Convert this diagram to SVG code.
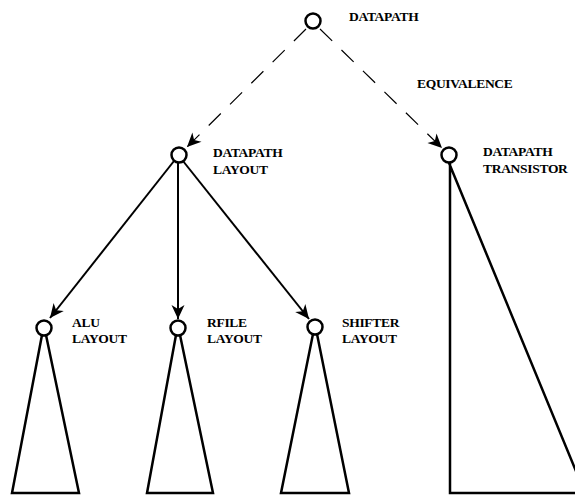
<svg xmlns="http://www.w3.org/2000/svg" width="575" height="497" viewBox="0 0 575 497">
  <style>
    .node circle { fill: #fff; stroke: #000; stroke-width: 2.5; }
    .tree { fill: none; stroke: #000; stroke-width: 2.5; stroke-linejoin: miter; }
    .lbl { font-family: "Liberation Serif", "Times New Roman", serif; font-weight: bold; font-size: 13.5px; fill: #000; letter-spacing: -0.3px; }
    .solid { stroke: #000; stroke-width: 2; fill: none; }
    .dash { stroke: #000; stroke-width: 1.2; fill: none; stroke-dasharray: 17 13; }
  </style>
  <defs>
    <marker id="head" markerUnits="userSpaceOnUse" markerWidth="18" markerHeight="16" viewBox="-15 -8 17 16" refX="0" refY="0" orient="auto">
      <path d="M0,0 L-14,-6.5 L-10,0 L-14,6.5 Z" fill="#000"/>
    </marker>
  </defs>

  <!-- hierarchy connectors -->
  <g id="connectors">
    <line class="dash" x1="306" y1="29" x2="187" y2="147" marker-end="url(#head)"/>
    <line class="dash" x1="320" y1="29" x2="442" y2="148" marker-end="url(#head)"/>
    <line class="solid" x1="174" y1="161" x2="50" y2="318" marker-end="url(#head)"/>
    <line class="solid" x1="178" y1="163" x2="178" y2="319" marker-end="url(#head)"/>
    <line class="solid" x1="183" y1="161" x2="309" y2="319" marker-end="url(#head)"/>
  </g>

  <g id="datapath" class="node">
    <circle cx="313" cy="21" r="7.5"/>
    <text class="lbl" x="349" y="21">DATAPATH</text>
    <text class="lbl" x="417" y="88">EQUIVALENCE</text>
  </g>

  <g id="datapath-layout" class="node">
    <circle cx="179" cy="155" r="7.5"/>
    <text class="lbl" x="213" y="157">DATAPATH</text>
    <text class="lbl" x="213" y="174">LAYOUT</text>
  </g>

  <g id="datapath-transistor" class="node">
    <polygon class="tree" points="450,163 450,493 585,493 449,163"/>
    <circle cx="449" cy="155" r="7.5"/>
    <text class="lbl" x="483" y="156">DATAPATH</text>
    <text class="lbl" x="483" y="173">TRANSISTOR</text>
  </g>

  <g id="alu-layout" class="node">
    <polygon class="tree" points="42,335 12,493 79,493 46,335"/>
    <circle cx="44" cy="328" r="7.5"/>
    <text class="lbl" x="72" y="327">ALU</text>
    <text class="lbl" x="72" y="343">LAYOUT</text>
  </g>

  <g id="rfile-layout" class="node">
    <polygon class="tree" points="176,335 147,493 213,493 180,335"/>
    <circle cx="178" cy="328" r="7.5"/>
    <text class="lbl" x="207" y="327">RFILE</text>
    <text class="lbl" x="207" y="343">LAYOUT</text>
  </g>

  <g id="shifter-layout" class="node">
    <polygon class="tree" points="313,334 281,493 349,493 317,334"/>
    <circle cx="315" cy="327" r="7.5"/>
    <text class="lbl" x="342" y="327">SHIFTER</text>
    <text class="lbl" x="342" y="343">LAYOUT</text>
  </g>
</svg>
